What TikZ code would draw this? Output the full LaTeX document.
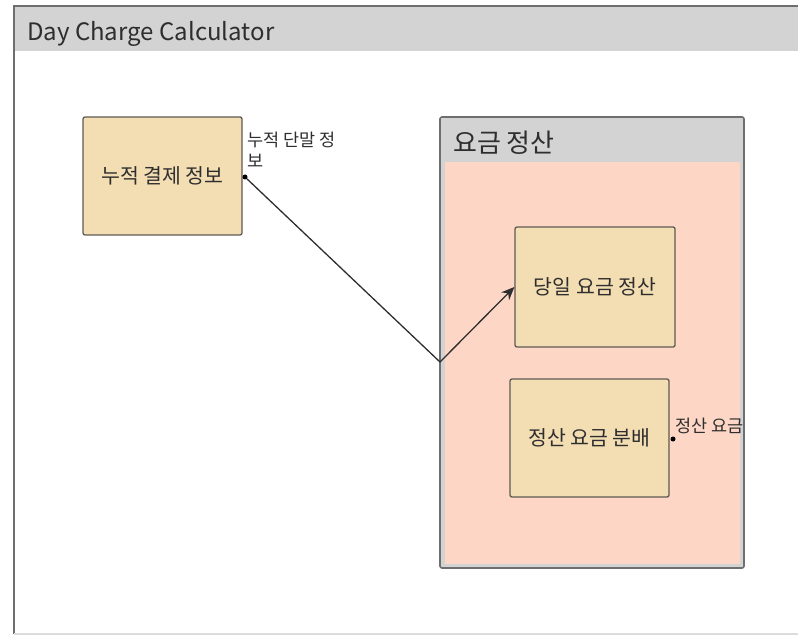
\documentclass[tikz,border=0pt]{standalone}
\usepackage{fontspec}
\setmainfont{Noto Sans CJK KR}
\usetikzlibrary{arrows.meta,calc}
\definecolor{hdrgray}{HTML}{D3D3D3}
\definecolor{boxfill}{HTML}{F3DDB3}
\definecolor{pinkfill}{HTML}{FDD6C6}
\definecolor{edgegray}{HTML}{6E6E6E}
\definecolor{boxedge}{HTML}{5F5A55}
\definecolor{txt}{HTML}{2E2E2E}
\tikzset{
  partbox/.style={draw=boxedge, fill=boxfill, line width=1.3pt, rounded corners=2pt,
    minimum width=159pt, minimum height=118pt, inner sep=0pt, text=txt,
    font=\fontsize{20.5}{24}\selectfont},
  portdot/.style={circle, fill=black, inner sep=0pt, minimum size=5pt},
  portlabel/.style={text=txt, font=\fontsize{17.5}{21}\selectfont, inner sep=0pt, align=left},
  conn/.style={draw=txt, line width=1.3pt},
}
\begin{document}
\begin{tikzpicture}[x=1pt,y=-1pt]
\useasboundingbox (0,0) rectangle (798,636);
% outer frame
\fill[hdrgray] (13,7) rectangle (798,51);
\draw[edgegray, line width=1.6pt] (798,6) -- (14,6) -- (14,634);
\draw[hdrgray!80!white, line width=1.2pt] (14,634) -- (798,634);
\node[anchor=west, text=txt, font=\fontsize{24}{28}\selectfont, inner sep=0pt] (title) at (27,34) {Day Charge Calculator};
% container
\draw[edgegray, fill=hdrgray, line width=1.6pt, rounded corners=2pt] (440,117) rectangle (744,568);
\fill[pinkfill] (445,162) rectangle (740,564);
\node[anchor=west, text=txt, font=\fontsize{26}{30}\selectfont, inner sep=0pt] (ctitle) at (453,143) {요금 정산};
% parts
\node[partbox] (acc) at (162.5,176) {누적 결제 정보};
\node[partbox, minimum width=160pt, minimum height=120pt] (day) at (595,287) {당일 요금 정산};
\node[partbox] (dist) at (589.5,438) {정산 요금 분배};
% ports
\node[portdot] (p1) at (245,177) {};
\node[portdot] (p2) at (673,439) {};
\node[portlabel, anchor=north west] (l1) at (247,132) {누적 단말 정\\보};
\node[portlabel, anchor=west] (l2) at (675,426) {정산 요금};
% connector
\coordinate (bend) at (440,362);
\draw[conn, -{Stealth[length=13pt,width=11pt]}] (p1) -- (bend) -- (day.west);
\end{tikzpicture}
\end{document}
